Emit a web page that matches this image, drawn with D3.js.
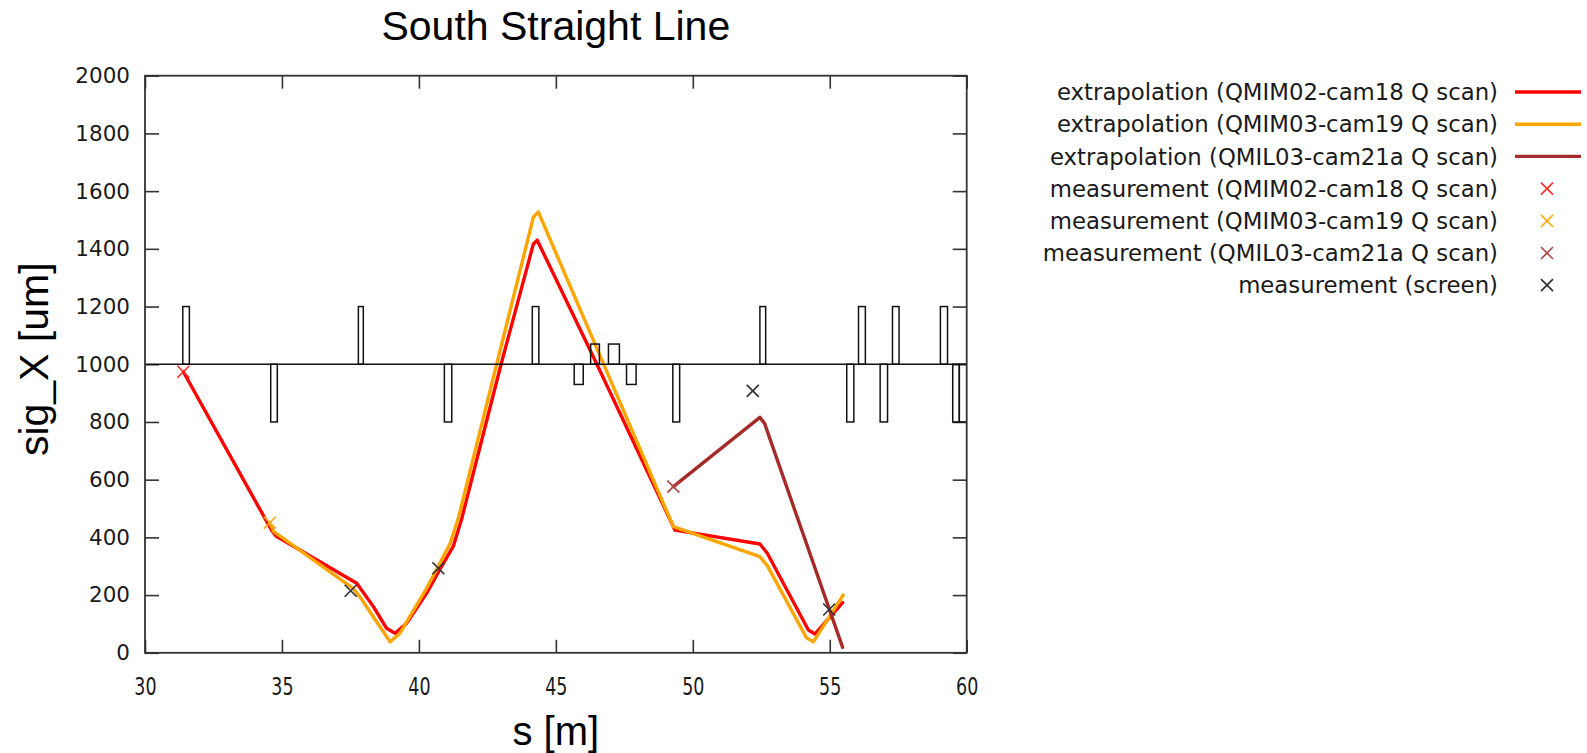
<!DOCTYPE html>
<html>
<head>
<meta charset="utf-8">
<script src="https://cdn.jsdelivr.net/npm/d3@7"></script>
<style>
  html, body { margin: 0; padding: 0; background: #fff; }
  svg { display: block; }
</style>
</head>
<body>
<svg id="chart" width="1587" height="753"></svg>
<script>
// Beam size sig_X along the south straight line, s in metres, sig_X in micrometres.

// Extrapolated envelopes from the three quadrupole scans
const sRed   = [31.40, 34.62, 34.78, 37.73, 38.34, 38.82, 39.13, 39.55, 40.28, 40.77, 41.26, 41.55, 43.00, 44.18, 44.32, 46.49, 49.35, 52.45, 52.72, 54.22, 54.46, 55.47];
const sigRed = [974,   425,   405,   241,   160,   85,    68,    102,   206,   290,   370,   460,   1000,  1417,  1430,  1002,  425,   377,   345,   79,    65,    174];

const sOrange   = [34.56, 34.70, 37.60, 37.85, 38.34, 38.95, 39.31, 40.28, 41.14, 41.45, 42.84, 44.18, 44.36, 49.29, 52.45, 52.72, 54.15, 54.40, 55.49];
const sigOrange = [451,   420,   223,   194,   124,   38,    68,    223,   379,   470,   1000,  1510,  1528,  437,   333,   302,   52,    38,    200];

const sBrown   = [49.29, 52.45, 52.62, 55.47];
const sigBrown = [576,   816,   795,   19];

// Measured beam sizes
const sMeasRed      = [31.40];
const sigMeasRed    = [974];
const sMeasOrange   = [34.56];
const sigMeasOrange = [451];
const sMeasBrown    = [49.29];
const sigMeasBrown  = [576];
const sScreen       = [37.51, 40.71, 52.19, 54.98];
const sigScreen     = [215,   293,   908,   150];

// Lattice elements drawn on the 1000 um reference line: start, end, bar level
const elemStart = [31.38, 34.59, 37.79, 40.93, 44.14, 45.67, 46.27, 46.92, 47.58, 49.27, 52.45, 55.62, 56.05, 56.84, 57.29, 59.04, 59.49, 59.73];
const elemEnd   = [31.62, 34.83, 37.97, 41.20, 44.38, 46.00, 46.59, 47.32, 47.93, 49.52, 52.66, 55.88, 56.30, 57.11, 57.53, 59.30, 59.73, 60.05];
const elemLevel = [1200,  800,   1200,  800,   1200,  930,   1070,  1070,  930,   800,   1200,  800,   1200,  800,   1200,  1200,  800,   800];
const latticeBase = 1000;

// Axes
const xTicks = [30, 35, 40, 45, 50, 55, 60];
const yTicks = [0, 200, 400, 600, 800, 1000, 1200, 1400, 1600, 1800, 2000];

const legendLabels = [
  "extrapolation (QMIM02-cam18 Q scan)",
  "extrapolation (QMIM03-cam19 Q scan)",
  "extrapolation (QMIL03-cam21a Q scan)",
  "measurement (QMIM02-cam18 Q scan)",
  "measurement (QMIM03-cam19 Q scan)",
  "measurement (QMIL03-cam21a Q scan)",
  "measurement (screen)"
];

const RED = "#ff0000", ORANGE = "#ffa500", BROWN = "#a52a2a", DARK = "#333333";

const svg = d3.select("#chart");
const plot = { left: 145, right: 966.7, top: 75.7, bottom: 652.8 };

const x = d3.scaleLinear().domain([30, 60]).range([plot.left, plot.right]);
const y = d3.scaleLinear().domain([0, 2000]).range([plot.bottom, plot.top]);

const clipId = "plot-clip";
svg.append("defs").append("clipPath").attr("id", clipId)
  .append("rect")
  .attr("x", plot.left).attr("y", plot.top)
  .attr("width", plot.right - plot.left).attr("height", plot.bottom - plot.top);

const fontTick = "'DejaVu Sans', sans-serif";
const fontTitle = "'Liberation Sans', Arial, sans-serif";

// Axes with inward ticks on all four sides
const tickLen = 14;
const fmt = d3.format("d");
const gLeft = svg.append("g").attr("transform", `translate(${plot.left},0)`)
  .call(d3.axisLeft(y).tickValues(yTicks).tickFormat(fmt).tickSizeInner(-tickLen).tickSizeOuter(0).tickPadding(15));
const gRight = svg.append("g").attr("transform", `translate(${plot.right},0)`)
  .call(d3.axisRight(y).tickValues(yTicks).tickSizeInner(-tickLen).tickSizeOuter(0).tickFormat(""));
const gBottom = svg.append("g").attr("transform", `translate(0,${plot.bottom})`)
  .call(d3.axisBottom(x).tickValues(xTicks).tickFormat(fmt).tickSizeInner(-tickLen + 1).tickSizeOuter(0).tickPadding(24));
const gTop = svg.append("g").attr("transform", `translate(0,${plot.top})`)
  .call(d3.axisTop(x).tickValues(xTicks).tickSizeInner(-tickLen + 1).tickSizeOuter(0).tickFormat(""));

[gLeft, gRight, gBottom, gTop].forEach(g => {
  g.select(".domain").remove();
  g.selectAll(".tick line").attr("stroke", DARK).attr("stroke-width", 1.6);
  g.selectAll(".tick text").attr("fill", "#1a1a1a").attr("font-family", fontTick).attr("font-size", 21.5);
});
// narrower, taller digits under the s axis
gBottom.selectAll(".tick text").attr("font-size", 25).attr("transform", "scale(0.7,1)");

// Curves and lattice clipped to the plot area
const inner = svg.append("g").attr("clip-path", `url(#${clipId})`);

const line = d3.line().x(d => x(d[0])).y(d => y(d[1]));
const series = [
  { s: sRed, v: sigRed, color: RED },
  { s: sOrange, v: sigOrange, color: ORANGE },
  { s: sBrown, v: sigBrown, color: BROWN }
];
series.forEach(sr => {
  inner.append("path")
    .datum(d3.zip(sr.s, sr.v))
    .attr("d", line)
    .attr("fill", "none")
    .attr("stroke", sr.color)
    .attr("stroke-width", 3.4)
    .attr("stroke-linejoin", "round")
    .attr("stroke-linecap", "round");
});

// Lattice: reference line plus element outlines
inner.append("line")
  .attr("x1", x(30)).attr("x2", x(60))
  .attr("y1", y(latticeBase)).attr("y2", y(latticeBase))
  .attr("stroke", "#111").attr("stroke-width", 1.6);
inner.selectAll("rect.elem")
  .data(d3.range(elemStart.length))
  .join("rect")
  .attr("class", "elem")
  .attr("x", i => x(elemStart[i]))
  .attr("width", i => x(elemEnd[i]) - x(elemStart[i]))
  .attr("y", i => y(Math.max(elemLevel[i], latticeBase)))
  .attr("height", i => Math.abs(y(elemLevel[i]) - y(latticeBase)))
  .attr("fill", "none")
  .attr("stroke", "#111")
  .attr("stroke-width", 1.5);

// Cross markers
function cross(g, cx, cy, color, r) {
  g.append("path")
    .attr("d", `M${cx - r},${cy - r}L${cx + r},${cy + r}M${cx - r},${cy + r}L${cx + r},${cy - r}`)
    .attr("stroke", color).attr("stroke-width", 1.7).attr("fill", "none");
}
const markerSets = [
  { s: sMeasRed, v: sigMeasRed, color: "#ff3030" },
  { s: sMeasOrange, v: sigMeasOrange, color: "#ffad1f" },
  { s: sMeasBrown, v: sigMeasBrown, color: "#b04848" },
  { s: sScreen, v: sigScreen, color: "#333333" }
];
const gMarks = svg.append("g");
markerSets.forEach(m => m.s.forEach((s, i) => cross(gMarks, x(s), y(m.v[i]), m.color, 6)));

// Plot border
svg.append("rect")
  .attr("x", plot.left).attr("y", plot.top)
  .attr("width", plot.right - plot.left).attr("height", plot.bottom - plot.top)
  .attr("fill", "none").attr("stroke", DARK).attr("stroke-width", 1.8);

// Title and axis labels
svg.append("text")
  .attr("x", (plot.left + plot.right) / 2).attr("y", 40)
  .attr("text-anchor", "middle")
  .attr("font-family", fontTitle).attr("font-size", 41).attr("fill", "#000")
  .text("South Straight Line");
svg.append("text")
  .attr("x", (plot.left + plot.right) / 2).attr("y", 745)
  .attr("text-anchor", "middle")
  .attr("font-family", fontTitle).attr("font-size", 40).attr("fill", "#000")
  .text("s [m]");
svg.append("text")
  .attr("transform", `translate(48,${(plot.top + plot.bottom) / 2 - 5}) rotate(-90)`)
  .attr("text-anchor", "middle")
  .attr("font-family", fontTitle).attr("font-size", 41).attr("fill", "#000")
  .text("sig_X [um]");

// Legend
const legendColors = [RED, ORANGE, BROWN, "#ff3030", "#ffad1f", "#b04848", "#333333"];
const legendIsLine = [true, true, true, false, false, false, false];
const legY0 = 92, legStep = 32.2, legTextX = 1498;
const gLeg = svg.append("g");
legendLabels.forEach((lab, i) => {
  const ly = legY0 + i * legStep;
  gLeg.append("text")
    .attr("x", legTextX).attr("y", ly).attr("dy", "0.36em")
    .attr("text-anchor", "end")
    .attr("font-family", fontTick).attr("font-size", 22.8).attr("fill", "#1a1a1a")
    .text(lab);
  if (legendIsLine[i]) {
    gLeg.append("line")
      .attr("x1", 1515).attr("x2", 1581).attr("y1", ly).attr("y2", ly)
      .attr("stroke", legendColors[i]).attr("stroke-width", 3.4);
  } else {
    cross(gLeg, 1547, ly, legendColors[i], 6);
  }
});
</script>
</body>
</html>
